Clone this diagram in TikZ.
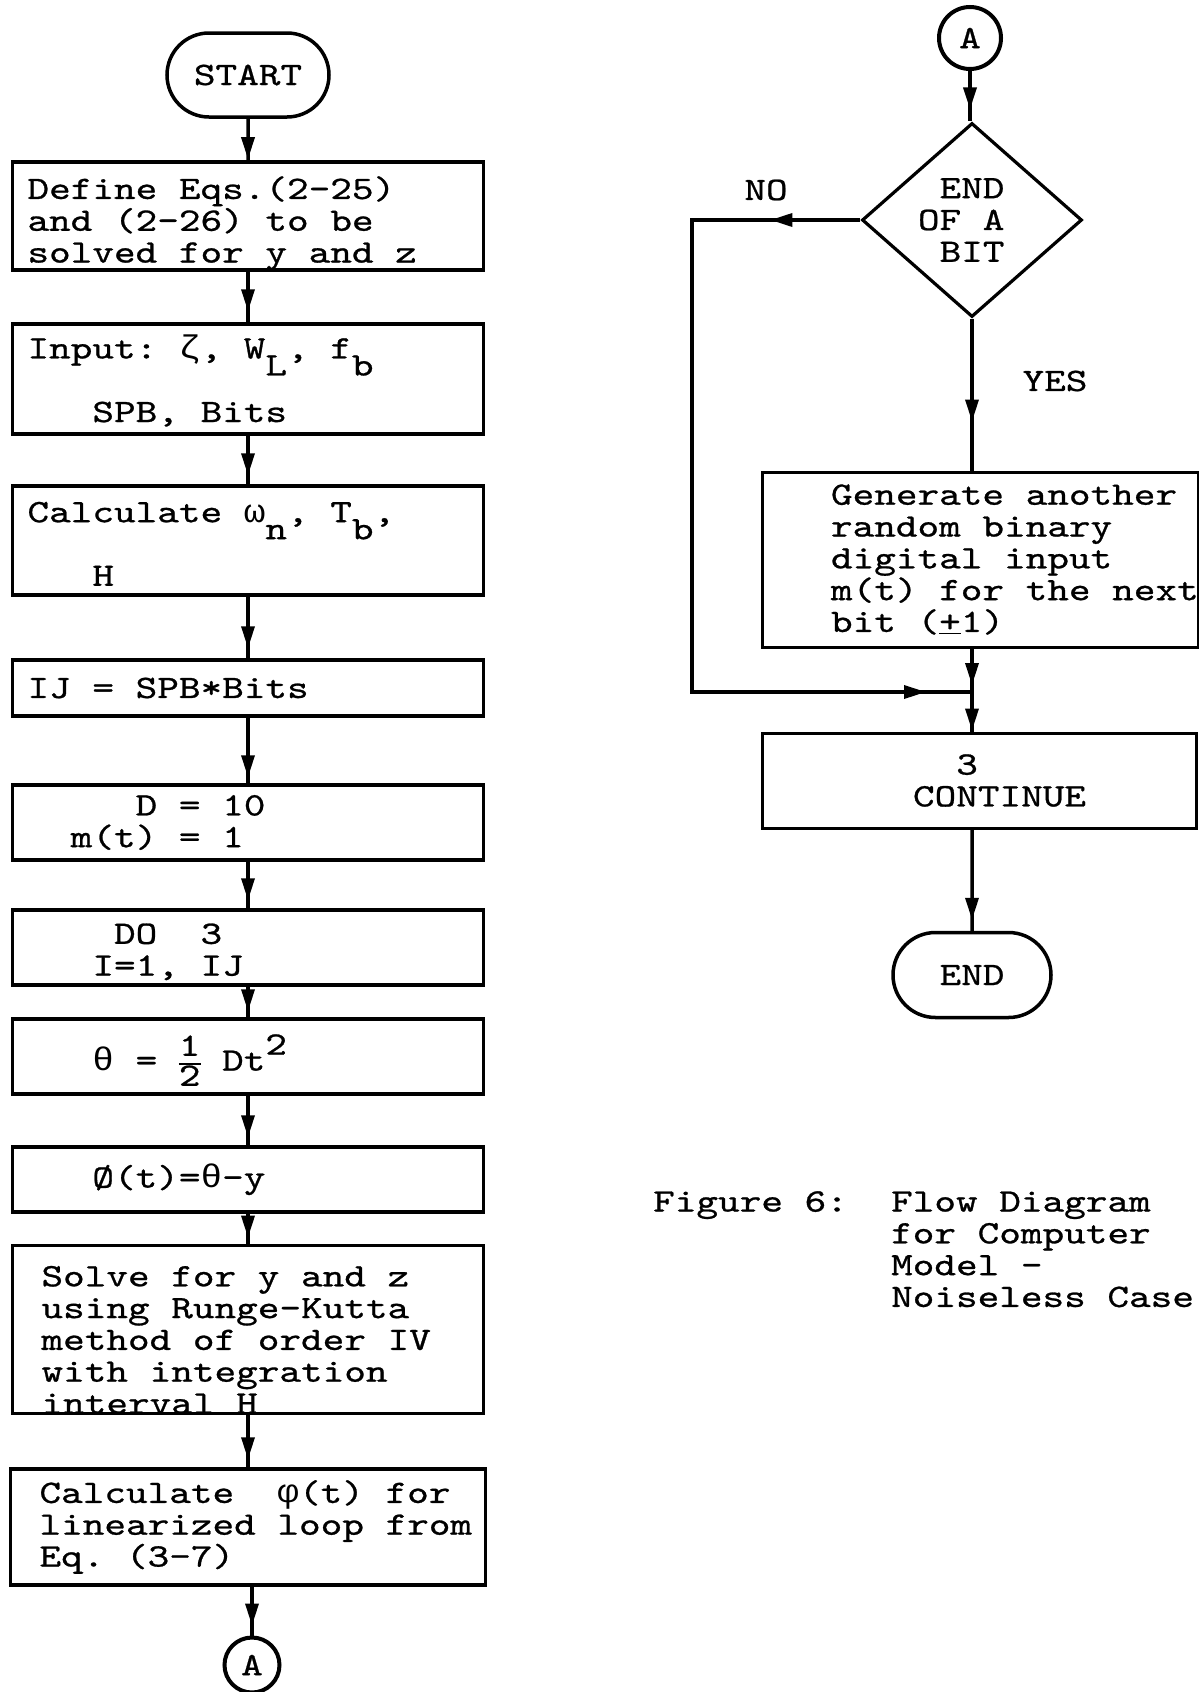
\documentclass[tikz,border=0pt]{standalone}
\usepackage{fontspec}
\setmainfont[FakeStretch=1.26, FakeBold=0.8]{lmmono10-regular.otf}
\newfontfamily\grk[FakeStretch=1.1]{Liberation Mono}
\usetikzlibrary{arrows.meta,positioning,shapes.geometric,shapes.misc,decorations.markings}
\frenchspacing

\newcommand\lowtxt[1]{\smash{\raisebox{-17pt}{#1}}}
\newcommand\hightxt[1]{\smash{\raisebox{16pt}{#1}}}
\newcommand\chskip[1]{\setbox0\hbox{0}\hspace*{#1\wd0}}
\newcommand\dropby[1]{\rule{0pt}{#1}}
\newcommand\halfstack{{\renewcommand\arraystretch{0.8}\setlength\arrayrulewidth{2pt}%
  \begin{tabular}[c]{@{}c@{}}1\\\hline 2\end{tabular}}}

\begin{document}
\begin{tikzpicture}[
  x=1pt, y=-1pt,
  font=\fontsize{32.7}{31.8}\selectfont,
  stepbox/.style={draw, line width=3.5pt, minimum width=471pt, text width=441pt,
    inner xsep=15pt, inner ysep=0pt, align=flush left,
    execute at begin node={\spaceskip=0pt\xspaceskip=0pt}},
  widebox/.style={stepbox, inner xsep=29pt, text width=413pt},
  term/.style={draw, rounded rectangle, line width=3.5pt, inner sep=0pt},
  conn/.style={draw, circle, line width=4pt, inner sep=0pt, minimum size=#1},
  decide/.style={draw, diamond, line width=3.2pt, inner sep=0pt, align=left,
    minimum width=220pt, minimum height=194pt},
  flow/.style={line width=3.5pt},
  midtip/.style={postaction={decorate, decoration={markings,
    mark=at position #1 with {\arrow{Triangle[length=22pt,width=13pt]}}}}}
]
\useasboundingbox (0,0) rectangle (1199,1692);

\node[term, minimum width=162pt, minimum height=84pt] (start) at (248,75) {START};
\node[stepbox, minimum height=106pt] (define) at (248,216)
  {\dropby{37pt}Define Eqs.(2-25)\\and (2-26) to be\\solved for y and z};
\node[stepbox, minimum height=110pt] (input) at (248,379)
  {\dropby{27pt}Input: {\grk ζ}, W\lowtxt{L}, f\lowtxt{b}\\\mbox{}\\\chskip{3}SPB, Bits};
\node[stepbox, minimum height=109pt] (calc) at (248,540.5)
  {\dropby{27pt}Calculate {\grk ω}\lowtxt{n}, T\lowtxt{b},\\\mbox{}\\\chskip{3}H};
\node[stepbox, minimum height=56pt] (ij) at (248,688) {IJ = SPB*Bits};
\node[stepbox, minimum height=75pt] (dset) at (248,822.5)
  {\chskip{5}D = 10\\\chskip{2}m(t) = 1};
\node[stepbox, minimum height=75pt] (doloop) at (248,947.5)
  {\dropby{29pt}\chskip{4}DO\ \ 3\\\chskip{3}I=1, IJ};
\node[stepbox, minimum height=75pt] (theta) at (248,1056.5)
  {\dropby{51pt}\chskip{3}{\grk θ} = \halfstack\ Dt\hightxt{2}};
\node[stepbox, minimum height=65pt] (phi) at (248,1179.5) {\chskip{3}Ø(t)={\grk θ}-y};
\node[widebox, minimum height=167pt] (solve) at (248,1329.5)
  {\dropby{41pt}Solve for y and z\\using Runge-Kutta\\method of order IV\\with integration\\interval H};
\node[widebox, minimum width=475pt, text width=417pt, minimum height=116pt] (calcphi) at (248,1527)
  {Calculate\ \ {\grk φ}(t) for\\\mbox{linearized loop from}\\Eq. (3-7)};
\node[conn=55pt] (conA) at (252,1665) {A};

\node[conn=62pt] (conB) at (970,38) {A};
\node[decide] (bitq) at (972,220)
  {\chskip{1}END\chskip{1}\mbox{}\\OF A\chskip{1}\mbox{}\\\chskip{1}BIT\chskip{1}\mbox{}};
\node (nolbl) at (766,190) {NO};
\node (yeslbl) at (1055,381) {YES};
\node[stepbox, line width=3pt, minimum width=436pt, inner xsep=69pt, text width=298pt,
  minimum height=175pt] (gen) at (980,559.5)
  {\mbox{Generate another}\\random binary\\digital input\\\mbox{m(t) for the next}\\bit (\underline{+}1)};
\coordinate (join) at (972,692);
\coordinate (nobend) at (692,220);
\coordinate (nobottom) at (692,692);
\node[stepbox, line width=3pt, minimum width=434pt, inner xsep=151pt, text width=132pt,
  minimum height=95pt] (cont) at (979,780.5) {\chskip{2}3\\\mbox{CONTINUE}};
\node[term, minimum width=158pt, minimum height=85pt] (finish) at (972,975) {END};

\node[anchor=north west, inner sep=0pt, align=left] (caption) at (653,1191)
  {Figure 6:\ \ Flow Diagram\\\chskip{11}for Computer\\\chskip{11}Model -\\\chskip{11}Noiseless Case};

\draw[flow, midtip=-1pt] (start) -- (define);
\draw[flow, midtip=-11pt] (define) -- (input);
\draw[flow, midtip=-9pt] (input) -- (calc);
\draw[flow, midtip=-10pt] (calc) -- (ij);
\draw[flow, midtip=-6pt] (ij) -- (dset);
\draw[flow, midtip=-8pt] (dset) -- (doloop);
\draw[flow, midtip=-6pt] (doloop) -- (theta);
\draw[flow, midtip=-8pt] (theta) -- (phi);
\draw[flow, midtip=-6pt] (phi) -- (solve);
\draw[flow, midtip=-8pt] (solve) -- (calcphi);
\draw[flow, midtip=-10pt] (calcphi.south -| conA) -- (conA);

\draw[flow, midtip=-12pt] (conB) -- (conB |- bitq.north);
\draw[flow, midtip=90pt, midtip=-46pt] (bitq.west) -- (nobend) -- (nobottom) -- (join);
\draw[flow, midtip=-49pt] (bitq.south) -- (join |- gen.north);
\draw[flow, midtip=-7pt] (gen.south -| join) -- (join);
\draw[flow, midtip=-1pt] (join) -- (join |- cont.north);
\draw[flow, midtip=-11pt] (cont.south -| finish) -- (finish);
\end{tikzpicture}
\end{document}
